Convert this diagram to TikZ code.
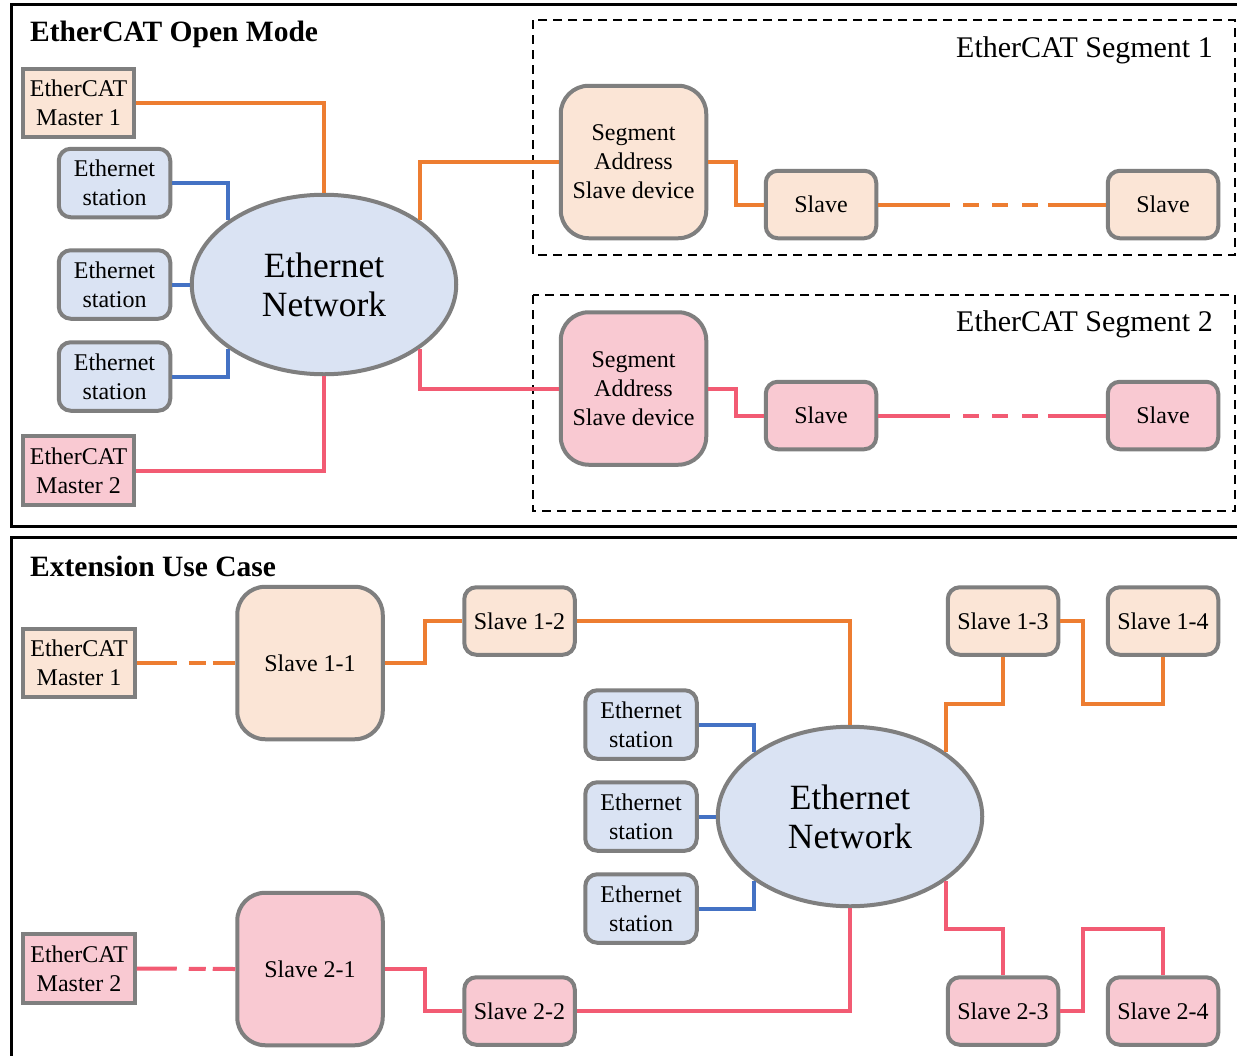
\documentclass[tikz,border=0pt]{standalone}
\usepackage{fontspec}
\setmainfont{Liberation Serif}
\usetikzlibrary{shapes.geometric,calc}
\definecolor{borderg}{HTML}{7F7F7F}
\definecolor{orng}{HTML}{ED7D31}
\definecolor{blu}{HTML}{4472C4}
\definecolor{pnk}{HTML}{F25B73}
\definecolor{peach}{HTML}{FBE5D6}
\definecolor{pinkf}{HTML}{F9C9D2}
\definecolor{bluef}{HTML}{DAE3F3}
\begin{document}
\begin{tikzpicture}[x=1pt,y=-1pt,
  base/.style={draw=borderg, line width=4pt, align=center, inner sep=0pt,
    font=\fontsize{24}{29}\selectfont},
  master/.style={base, rectangle, minimum width=111.5pt, minimum height=68.5pt},
  smallbox/.style={base, rectangle, rounded corners=12pt, minimum width=110.5pt, minimum height=67.5pt},
  bigbox/.style={base, rectangle, rounded corners=28pt, minimum width=145.5pt, minimum height=152.5pt},
  station/.style={smallbox, fill=bluef, minimum width=111.5pt, minimum height=68.5pt},
  netw/.style={base, ellipse, fill=bluef, minimum width=264.5pt, minimum height=179.5pt,
    font=\fontsize{35.5}{39}\selectfont},
  pe/.style={fill=peach}, pk/.style={fill=pinkf},
  oc/.style={draw=orng, line width=4pt},
  pc/.style={draw=pnk, line width=4pt},
  bc/.style={draw=blu, line width=4pt},
  segdash/.style={dash pattern=on 72pt off 13pt on 16pt off 13pt on 16pt off 14pt on 16pt off 10pt on 200pt},
  mdash/.style={dash pattern=on 40pt off 12pt on 17pt off 7pt on 100pt},
  frame/.style={draw=black, line width=3pt},
  segframe/.style={draw=black, line width=2.2pt, dash pattern=on 9pt off 6pt},
  title/.style={anchor=west, inner sep=0pt, font=\bfseries\fontsize{29.5}{33}\selectfont},
  seglabel/.style={anchor=east, inner sep=0pt, font=\fontsize{30}{34}\selectfont}
]
\clip (0,0) rectangle (1237,1055);
\fill[white] (0,0) rectangle (1237,1055);
% frames
\draw[frame] (11,4) rectangle (1260,526);
\draw[frame] (11,537) rectangle (1260,1080);
\draw[segframe] (533,20) rectangle (1235,255);
\draw[segframe] (533,295) rectangle (1235,511);
% titles
\node[title] (t1) at (30,34) {EtherCAT Open Mode};
\node[title] (t2) at (30,566) {Extension Use Case};
\node[seglabel] (sg1) at (1213,50) {EtherCAT Segment 1};
\node[seglabel] (sg2) at (1213,324) {EtherCAT Segment 2};
% ---- top section
\node[master, pe] (m1) at (78.5,103) {EtherCAT\\Master 1};
\node[station] (es1) at (114.5,183) {Ethernet\\station};
\node[station] (es2) at (114.5,284.5) {Ethernet\\station};
\node[station] (es3) at (114.5,376.5) {Ethernet\\station};
\node[master, pk] (m2) at (78.5,470.5) {EtherCAT\\Master 2};
\node[netw] (net1) at (324,284.5) {Ethernet\\Network};
\node[bigbox, pe] (sa1) at (633.5,162) {Segment\\Address\\Slave device};
\node[smallbox, pe] (sl1a) at (821,204.5) {Slave};
\node[smallbox, pe] (sl1b) at (1163,204.5) {Slave};
\node[bigbox, pk] (sa2) at (633.5,388.5) {Segment\\Address\\Slave device};
\node[smallbox, pk] (sl2a) at (821,415.5) {Slave};
\node[smallbox, pk] (sl2b) at (1163,415.5) {Slave};
% top connectors
\draw[oc] (m1.east) -| (net1.north);
\draw[pc] (m2.east) -| (net1.south);
\draw[bc] (es1.east) -| (net1.146);
\draw[bc] (es2.east) -- (net1.west);
\draw[bc] (es3.east) -| (net1.214);
\draw[oc] (net1.34) |- (sa1.west);
\draw[pc] (net1.-34) |- (sa2.west);
\draw[oc] (sa1.east) -- ++(28,0) |- (sl1a.west);
\draw[pc] (sa2.east) -- ++(28,0) |- (sl2a.west);
\draw[oc, segdash] (sl1a.east) -- (sl1b.west);
\draw[pc, segdash] (sl2a.east) -- (sl2b.west);
% ---- bottom section
\node[master, pe] (m3) at (79,663) {EtherCAT\\Master 1};
\node[bigbox, pe] (s11) at (310,663) {Slave 1-1};
\node[smallbox, pe] (s12) at (519.5,621) {Slave 1-2};
\node[station] (es4) at (641,724.5) {Ethernet\\station};
\node[station] (es5) at (641,816.5) {Ethernet\\station};
\node[station] (es6) at (641,908.5) {Ethernet\\station};
\node[netw] (net2) at (850,816.5) {Ethernet\\Network};
\node[smallbox, pe] (s13) at (1003,621) {Slave 1-3};
\node[smallbox, pe] (s14) at (1163,621) {Slave 1-4};
\node[master, pk] (m4) at (79,968.5) {EtherCAT\\Master 2};
\node[bigbox, pk] (s21) at (310,969) {Slave 2-1};
\node[smallbox, pk] (s22) at (519.5,1011) {Slave 2-2};
\node[smallbox, pk] (s23) at (1003,1011) {Slave 2-3};
\node[smallbox, pk] (s24) at (1163,1011) {Slave 2-4};
% bottom connectors
\draw[oc, mdash] (m3.east) -- (s11.west);
\draw[pc, mdash] (m4.east) -- (s21.west);
\draw[oc] (s11.east) -- ++(40,0) |- (s12.west);
\draw[pc] (s21.east) -- ++(40,0) |- (s22.west);
\draw[oc] (s12.east) -| (net2.north);
\draw[pc] (net2.south) |- (s22.east);
\draw[bc] (es4.east) -| (net2.146);
\draw[bc] (es5.east) -- (net2.west);
\draw[bc] (es6.east) -| (net2.214);
\draw[oc] (net2.34) |- ($(s13.south)+(0,47)$) -- (s13.south);
\draw[oc] (s13.east) -- ++(23,0) |- ($(s14.south)+(0,47)$) -- (s14.south);
\draw[pc] (net2.-34) |- ($(s23.north)+(0,-46)$) -- (s23.north);
\draw[pc] (s23.east) -- ++(23,0) |- ($(s24.north)+(0,-46)$) -- (s24.north);
\end{tikzpicture}
\end{document}
